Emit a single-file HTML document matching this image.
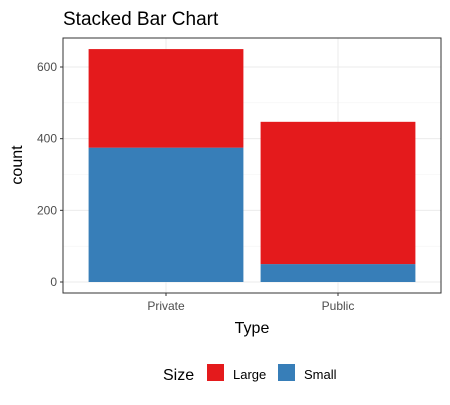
<!DOCTYPE html>
<html><head><meta charset="utf-8"><style>
body{margin:0;background:#fff;font-family:"Liberation Sans",sans-serif;}
svg text{font-family:"Liberation Sans",sans-serif;}
</style></head><body>
<svg width="450" height="400">
<text x="63" y="25" font-size="19" fill="#000">Stacked Bar Chart</text>
<rect x="63" y="38" width="378" height="255" fill="#fff" stroke="none"/>
<g id="grid"></g>
<g id="bars"></g>
<rect x="63" y="38" width="378" height="255" fill="none" stroke="#333" stroke-width="1"/>
<g id="axes"></g>
<text x="252" y="333" font-size="16" text-anchor="middle">Type</text>
<text transform="translate(22,165) rotate(-90)" font-size="16" text-anchor="middle">count</text>
<g>
<text x="163" y="380" font-size="16">Size</text>
<rect x="207" y="364" width="17" height="17" fill="#E41A1C"/>
<text x="233" y="379" font-size="13">Large</text>
<rect x="278" y="364" width="17" height="17" fill="#377EB8"/>
<text x="304" y="379" font-size="13">Small</text>
</g>
</svg>
<script>
const categories=["Private","Public"];
const smallValues=[375,50];
const largeValues=[275,397];
const yTicks=[0,200,400,600];
const NS="http://www.w3.org/2000/svg";
const px0=63,px1=441,py0=38,py1=293;
const yScale=v=>282-v*(282-67)/600;
const step=(px1-px0-34)/categories.length;
const xCenter=i=>px0+17+step*(i+0.5);
const bw=step*0.9;
function mk(tag,attrs,parent){const e=document.createElementNS(NS,tag);for(const k in attrs)e.setAttribute(k,attrs[k]);document.getElementById(parent).appendChild(e);return e;}
// grid
for(let i=0;i<yTicks.length;i++){
 const t=yTicks[i];
 const l=mk("line",{x1:px0,x2:px1,y1:yScale(t),y2:yScale(t),stroke:"#ebebeb","stroke-width":1},"grid");
 
 
 if(i<yTicks.length-1){const m=mk("line",{x1:px0,x2:px1,y1:yScale(t+100),y2:yScale(t+100),stroke:"#f3f3f3","stroke-width":0.6},"grid");
 
 }
 const tk=mk("line",{x1:px0-3,x2:px0,y1:yScale(t),y2:yScale(t),stroke:"#333"},"axes");
 
 
 const tx=mk("text",{x:px0-6,y:yScale(t)+4,"font-size":12,fill:"#4d4d4d","text-anchor":"end"},"axes");
 tx.textContent=t;
 
 
}
categories.forEach((c,i)=>{
 const cx=xCenter(i);
 const g=mk("line",{x1:cx,x2:cx,y1:py0,y2:py1,stroke:"#ebebeb"},"grid");
 
 
 const s=mk("rect",{x:cx-bw/2,y:yScale(smallValues[i]),width:bw,height:yScale(0)-yScale(smallValues[i]),fill:"#377EB8"},"bars");
 
 
 const tot=smallValues[i]+largeValues[i];
 const l=mk("rect",{x:cx-bw/2,y:yScale(tot),width:bw,height:yScale(smallValues[i])-yScale(tot),fill:"#E41A1C"},"bars");
 
 
 const tk=mk("line",{x1:cx,x2:cx,y1:py1,y2:py1+3,stroke:"#333"},"axes");
 
 
 const tx=mk("text",{x:cx,y:py1+17,"font-size":12,fill:"#4d4d4d","text-anchor":"middle"},"axes");
 tx.textContent=c;
 
 
});
</script>
</body></html>
